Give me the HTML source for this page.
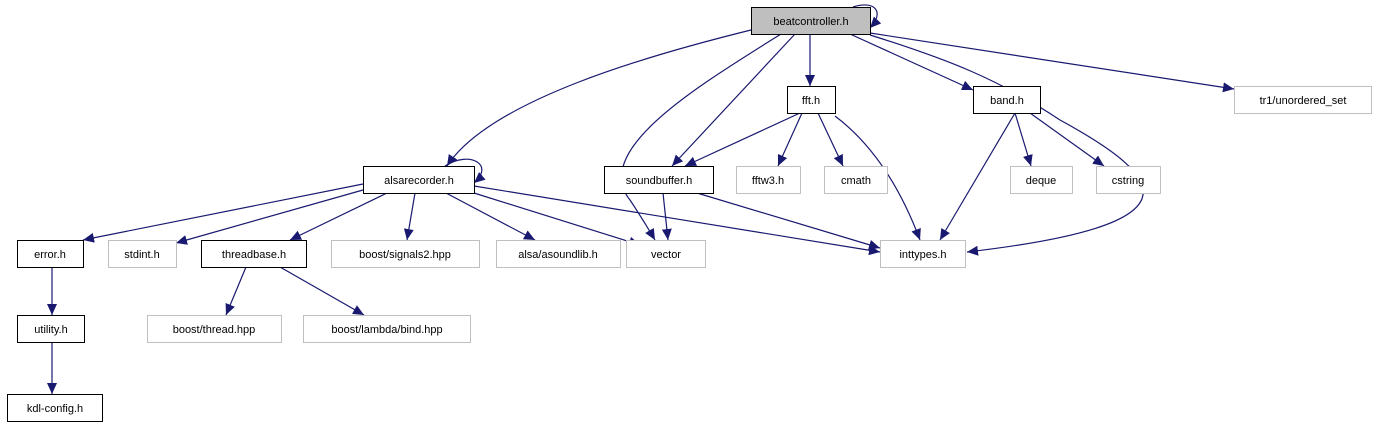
<!DOCTYPE html>
<html><head><meta charset="utf-8"><style>
html,body{margin:0;padding:0;background:#fff;}
svg text{font-family:"Liberation Sans",sans-serif;font-size:11px;fill:#000;text-anchor:middle;}
</style></head><body>
<svg width="1376" height="427" viewBox="0 0 1376 427" xmlns="http://www.w3.org/2000/svg">
<defs>
<marker id="a" markerUnits="userSpaceOnUse" markerWidth="12" markerHeight="10" refX="11" refY="5" orient="auto">
<path d="M0,0 L11,5 L0,10 Z" fill="#191970"/>
</marker>
</defs>
<g fill="none" stroke="#191970" stroke-width="1.2" marker-end="url(#a)">
<path d="M853,7 C875,0 885,12 870,28"/>
<path d="M751,30 C650,55 490,100 447,166"/>
<path d="M781,34 C700,85 590,150 630,200 C640,215 648,228 655,240"/>
<path d="M795,34 L672,166"/>
<path d="M810,34 L810,86"/>
<path d="M850,34 L973,90"/>
<path d="M870,35 C950,60 1000,80 1060,120 C1170,180 1200,225 967,252"/>
<path d="M870,33 L1234,89"/>
<path d="M800,113 L685,166"/>
<path d="M802,113 L778,166"/>
<path d="M818,113 L843,166"/>
<path d="M835,116 C880,150 905,200 920,240"/>
<path d="M1015,113 L940,240"/>
<path d="M1015,113 L1031,166"/>
<path d="M1030,113 L1104,166"/>
<path d="M445,166 C470,150 495,165 474,183"/>
<path d="M474,186 L880,252"/>
<path d="M363,184 L83,240"/>
<path d="M363,190 L176,243"/>
<path d="M387,193 L290,240"/>
<path d="M415,193 L407,240"/>
<path d="M446,193 L535,240"/>
<path d="M474,193 L640,245"/>
<path d="M663,193 L668,240"/>
<path d="M697,193 L880,248"/>
<path d="M52,267 L52,315"/>
<path d="M52,342 L52,394"/>
<path d="M246,267 L226,315"/>
<path d="M280,267 L364,315"/>
</g>
<g stroke-width="1">
<rect x="751.5" y="7.5" width="119" height="27" fill="#bfbfbf" stroke="#000"/>
<rect x="787.5" y="86.5" width="48" height="27" fill="#fff" stroke="#000"/>
<rect x="973.5" y="86.5" width="67" height="27" fill="#fff" stroke="#000"/>
<rect x="1234.5" y="86.5" width="137" height="27" fill="#fff" stroke="#bfbfbf"/>
<rect x="363.5" y="166.5" width="111" height="27" fill="#fff" stroke="#000"/>
<rect x="604.5" y="166.5" width="109" height="27" fill="#fff" stroke="#000"/>
<rect x="736.5" y="166.5" width="64" height="27" fill="#fff" stroke="#bfbfbf"/>
<rect x="824.5" y="166.5" width="63" height="27" fill="#fff" stroke="#bfbfbf"/>
<rect x="1010.5" y="166.5" width="62" height="27" fill="#fff" stroke="#bfbfbf"/>
<rect x="1096.5" y="166.5" width="64" height="27" fill="#fff" stroke="#bfbfbf"/>
<rect x="17.5" y="240.5" width="66" height="27" fill="#fff" stroke="#000"/>
<rect x="108.5" y="240.5" width="68" height="27" fill="#fff" stroke="#bfbfbf"/>
<rect x="201.5" y="240.5" width="105" height="27" fill="#fff" stroke="#000"/>
<rect x="331.5" y="240.5" width="148" height="27" fill="#fff" stroke="#bfbfbf"/>
<rect x="496.5" y="240.5" width="124" height="27" fill="#fff" stroke="#bfbfbf"/>
<rect x="626.5" y="240.5" width="79" height="27" fill="#fff" stroke="#bfbfbf"/>
<rect x="880.5" y="240.5" width="85" height="27" fill="#fff" stroke="#bfbfbf"/>
<rect x="17.5" y="315.5" width="67" height="27" fill="#fff" stroke="#000"/>
<rect x="147.5" y="315.5" width="134" height="27" fill="#fff" stroke="#bfbfbf"/>
<rect x="303.5" y="315.5" width="167" height="27" fill="#fff" stroke="#bfbfbf"/>
<rect x="7.5" y="394.5" width="95" height="27" fill="#fff" stroke="#000"/>
</g>
<g>
<text x="811" y="25">beatcontroller.h</text>
<text x="811" y="104">fft.h</text>
<text x="1007" y="104">band.h</text>
<text x="1303" y="104">tr1/unordered_set</text>
<text x="419" y="184">alsarecorder.h</text>
<text x="659" y="184">soundbuffer.h</text>
<text x="768" y="184">fftw3.h</text>
<text x="856" y="184">cmath</text>
<text x="1041" y="184">deque</text>
<text x="1128" y="184">cstring</text>
<text x="50" y="258">error.h</text>
<text x="142" y="258">stdint.h</text>
<text x="254" y="258">threadbase.h</text>
<text x="405" y="258">boost/signals2.hpp</text>
<text x="558" y="258">alsa/asoundlib.h</text>
<text x="666" y="258">vector</text>
<text x="923" y="258">inttypes.h</text>
<text x="51" y="333">utility.h</text>
<text x="214" y="333">boost/thread.hpp</text>
<text x="387" y="333">boost/lambda/bind.hpp</text>
<text x="55" y="412">kdl-config.h</text>
</g>
</svg>
</body></html>
